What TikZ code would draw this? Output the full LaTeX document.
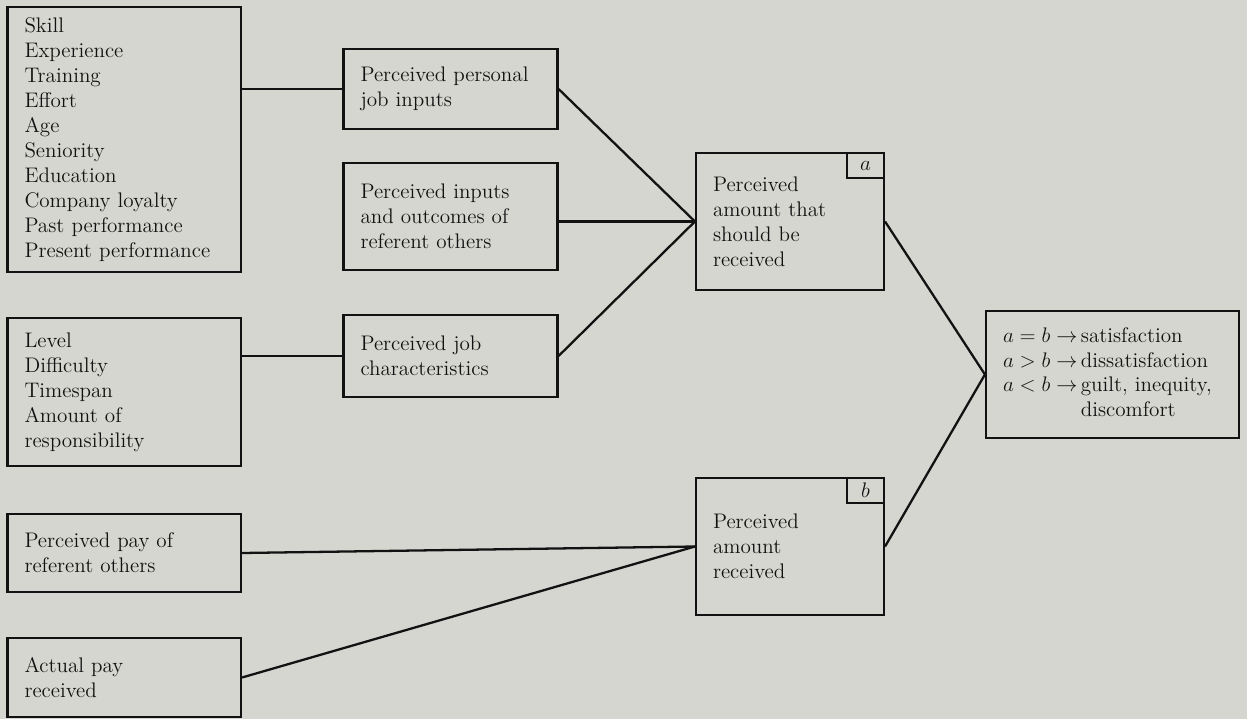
\documentclass[tikz,border=0pt]{standalone}
\definecolor{paper}{RGB}{214,214,208}
\definecolor{ink}{RGB}{18,18,18}
\begin{document}
\begin{tikzpicture}[every node/.style={font=\fontsize{12}{14.2}\selectfont,text=ink},
 box/.style={draw=ink,rectangle,line width=1.2pt,inner xsep=.34cm,inner ysep=0pt,align=left},
 tag/.style={draw=ink,rectangle,line width=1.2pt,minimum width=.74cm,minimum height=.5cm,
  inner sep=0pt,anchor=north east},
 line width=1.3pt]
\fill[paper] (0,0) rectangle (24.94,-14.38);
\useasboundingbox (0,0) rectangle (24.94,-14.38);
% left column
\node[box,text width=3.99cm,minimum height=5.3cm] (attr) at (2.485,-2.79)
 {Skill\\Experience\\Training\\Effort\\Age\\Seniority\\Education\\Company loyalty\\Past performance\\Present performance};
\node[box,text width=3.99cm,minimum height=2.96cm] (jobattr) at (2.485,-7.84)
 {Level\\Difficulty\\Timespan\\Amount of\\responsibility};
\node[box,text width=3.99cm,minimum height=1.56cm] (refpay) at (2.485,-11.06)
 {Perceived pay of\\referent others};
\node[box,text width=3.99cm,minimum height=1.58cm] (actpay) at (2.485,-13.55)
 {Actual pay\\received};
% middle column
\node[box,text width=3.6cm,minimum height=1.6cm] (pinp) at (9.01,-1.78)
 {Perceived personal\\job inputs};
\node[box,text width=3.6cm,minimum height=2.14cm] (pref) at (9.01,-4.33)
 {Perceived inputs\\and outcomes of\\referent others};
\node[box,text width=3.6cm,minimum height=1.64cm] (pjob) at (9.01,-7.12)
 {Perceived job\\characteristics};
% amounts a and b
\node[box,text width=3.08cm,minimum height=2.74cm] (should) at (15.8,-4.43)
 {Perceived\\amount that\\should be\\received};
\node[tag] (ta) at (should.north east) {$a$};
\node[box,text width=3.08cm,minimum height=2.74cm] (recv) at (15.8,-10.93)
 {Perceived\\amount\\received};
\node[tag] (tb) at (recv.north east) {$b$};
% outcome
\node[box,text width=4.38cm,minimum height=2.54cm] (out) at (22.25,-7.49)
 {\begin{tabular}{@{}l@{\,}l@{}}
 $a=b\rightarrow$ & satisfaction\\
 $a>b\rightarrow$ & dissatisfaction\\
 $a<b\rightarrow$ & guilt, inequity,\\
 & discomfort
 \end{tabular}};
\draw[ink] (attr.east |- pinp.west) -- (pinp.west);
\draw[ink] (jobattr.east |- pjob.west) -- (pjob.west);
\draw[ink] (pref.east |- should.west) -- (should.west);
\foreach \n in {pinp,pjob}
 \draw[ink] (\n.east) -- (should.west);
\foreach \n in {refpay,actpay}
 \draw[ink] (\n.east) -- (recv.west);
\draw[ink] (should.east) -- (out.west) (recv.east) -- (out.west);
\end{tikzpicture}
\end{document}
